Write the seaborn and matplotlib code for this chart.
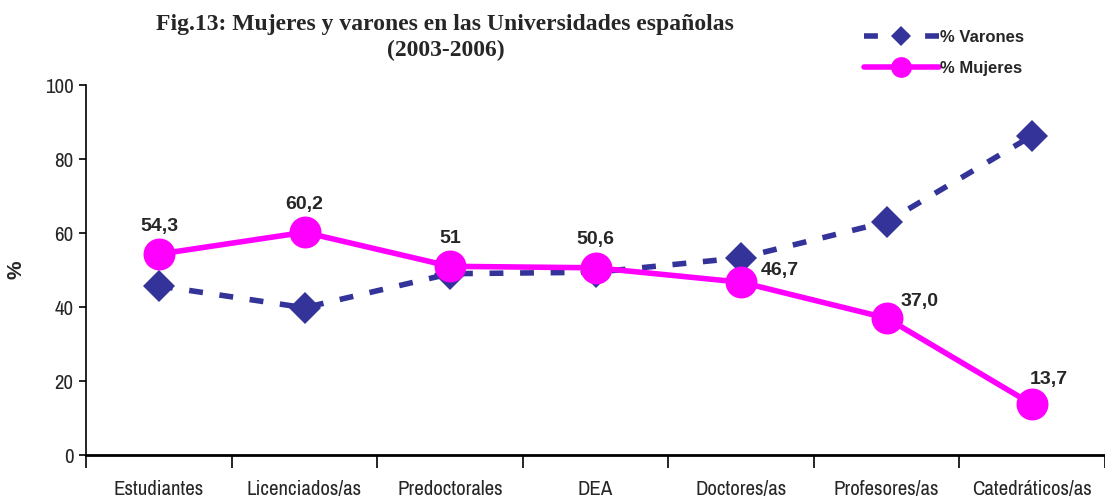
import numpy as np
import pandas as pd
import matplotlib
matplotlib.use("Agg")
import matplotlib.pyplot as plt
import seaborn as sns

categorias = ["Estudiantes", "Licenciados/as", "Predoctorales", "DEA",
              "Doctores/as", "Profesores/as", "Catedráticos/as"]
varones = [45.7, 39.8, 49.0, 49.4, 53.3, 63.0, 86.3]
mujeres = [54.3, 60.2, 51.0, 50.6, 46.7, 37.0, 13.7]
etiquetas_mujeres = ["54,3", "60,2", "51", "50,6", "46,7", "37,0", "13,7"]
y_ticks = [0, 20, 40, 60, 80, 100]

sns.set_style("white")
narrow = ["Archivo Narrow", "Liberation Sans", "DejaVu Sans"]
arial = ["Liberation Sans", "DejaVu Sans"]
serif = ["Liberation Serif", "DejaVu Serif"]
plt.rcParams["font.family"] = narrow

df = pd.DataFrame({"pos": np.arange(len(categorias)),
                   "Varones": varones, "Mujeres": mujeres})

fig = plt.figure(figsize=(11.05, 5.03), dpi=100)
ax = fig.add_axes([0.078, 0.0954, 0.922, 0.7356])

sns.lineplot(data=df, x="pos", y="Varones", ax=ax, color="#333399",
             linewidth=4, linestyle=(0, (2.5, 3)), marker="D",
             markersize=16, markeredgewidth=0, label="% Varones")
sns.lineplot(data=df, x="pos", y="Mujeres", ax=ax, color="#FF00FF",
             linewidth=4, marker="o", markersize=23, markeredgewidth=0,
             label="% Mujeres")

# etiquetas de datos (mujeres)
offsets = [(0, 14), (0, 14), (0, 14), (0, 14), (14, 2), (10, 6), (-2, 12)]
aligns = [("center", "bottom"), ("center", "bottom"), ("center", "bottom"),
          ("center", "bottom"), ("left", "bottom"), ("left", "bottom"),
          ("left", "bottom")]
for i, (val, txt) in enumerate(zip(mujeres, etiquetas_mujeres)):
    dx, dy = offsets[i]
    ha, va = aligns[i]
    ax.annotate(txt, (i, val), xytext=(dx, dy), textcoords="offset points",
                ha=ha, va=va, fontsize=14, fontweight="bold", family=arial)

ax.set_xlim(-0.5, len(categorias) - 0.5)
ax.set_ylim(0, 100)
ax.set_yticks(y_ticks)
ax.set_yticklabels([str(v) for v in y_ticks], fontsize=15)
ax.set_xticks(np.arange(-0.5, len(categorias), 1))
ax.set_xticklabels([])
ax.set_xticks(np.arange(len(categorias)), minor=True)
ax.set_xticklabels(categorias, minor=True, fontsize=15)
ax.tick_params(axis="x", which="major", direction="out", length=9, width=1.2,
               color="black", bottom=True)
ax.tick_params(axis="x", which="minor", length=0, pad=18)
ax.tick_params(axis="y", direction="out", length=5, width=1.2, color="black",
               left=True, pad=4)

ax.set_xlabel("")
ax.set_ylabel("%", fontsize=15, fontweight="bold", family=arial, labelpad=14)

for s in ["top", "right"]:
    ax.spines[s].set_visible(False)
ax.spines["left"].set_color("black")
ax.spines["left"].set_linewidth(1.2)
ax.spines["bottom"].set_color("black")
ax.spines["bottom"].set_linewidth(2)

ax.legend(loc="upper left", bbox_to_anchor=(0.768, 0.97),
          bbox_transform=fig.transFigure, frameon=False,
          handlelength=4.5, handletextpad=0.1, labelspacing=0.95,
          markerscale=0.65,
          prop={"weight": "bold", "size": 12, "family": arial})

fig.text(0.403, 0.952, "Fig.13: Mujeres y varones en las Universidades españolas",
         ha="center", va="center", fontsize=17, fontweight="bold", family=serif)
fig.text(0.403, 0.900, "(2003-2006)", ha="center", va="center", fontsize=17,
         fontweight="bold", family=serif)

fig.savefig("out.png", dpi=100)
